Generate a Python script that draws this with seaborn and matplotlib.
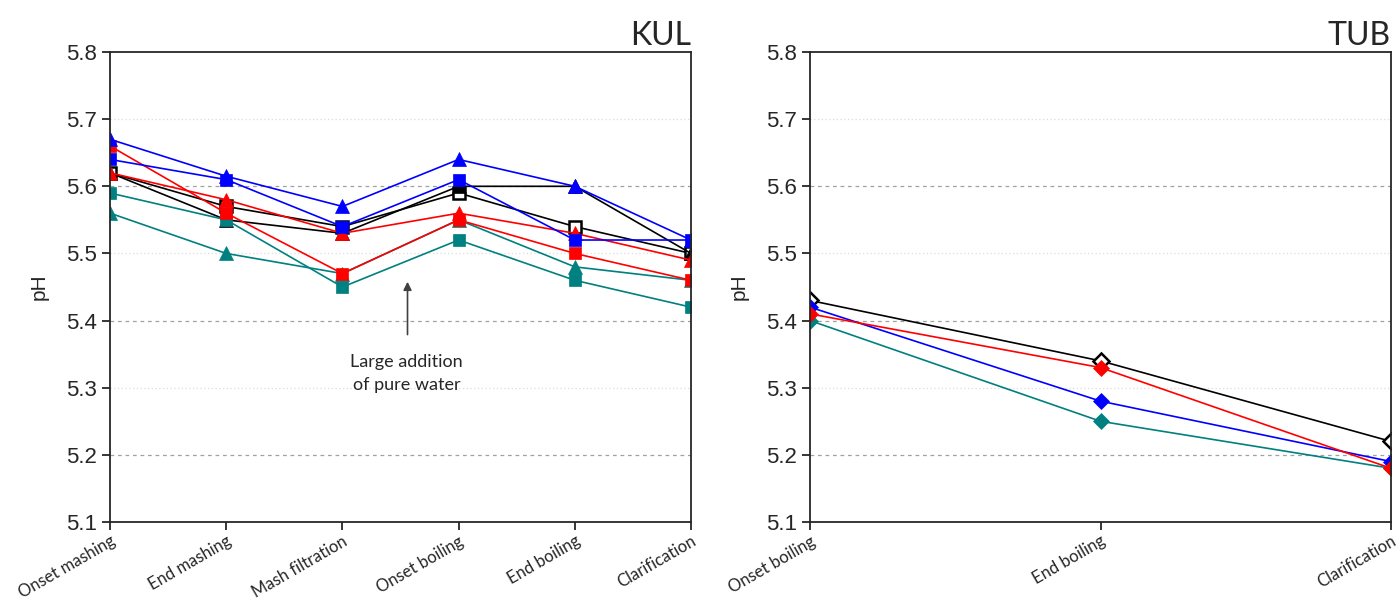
import matplotlib
matplotlib.use("Agg")
import matplotlib.pyplot as plt
import numpy as np
import pandas as pd
import seaborn as sns

# ---------------------------- data ----------------------------
kul_stages = ["Onset mashing", "End mashing", "Mash filtration",
              "Onset boiling", "End boiling", "Clarification"]
tub_stages = ["Onset boiling", "End boiling", "Clarification"]

kul_black_open_sq = [5.62, 5.57, 5.54, 5.59, 5.54, 5.50]
kul_black_tri = [5.62, 5.55, 5.53, 5.60, 5.60, 5.50]
kul_teal_tri = [5.56, 5.50, 5.47, 5.55, 5.48, 5.46]
kul_teal_sq = [5.59, 5.55, 5.45, 5.52, 5.46, 5.42]
kul_red_tri = [5.62, 5.58, 5.53, 5.56, 5.53, 5.49]
kul_red_sq = [5.66, 5.56, 5.47, 5.55, 5.50, 5.46]
kul_blue_tri = [5.67, 5.615, 5.57, 5.64, 5.60, 5.52]
kul_blue_sq = [5.64, 5.61, 5.54, 5.61, 5.52, 5.52]

tub_black = [5.43, 5.34, 5.22]
tub_teal = [5.40, 5.25, 5.18]
tub_blue = [5.42, 5.28, 5.19]
tub_red = [5.41, 5.33, 5.18]

BLUE, RED, TEAL, BLACK = "#0000ff", "#ff0000", "#008080", "#000000"

kul_series = [
    (kul_black_open_sq, BLACK, "s", True),
    (kul_black_tri, BLACK, "^", False),
    (kul_teal_tri, TEAL, "^", False),
    (kul_teal_sq, TEAL, "s", False),
    (kul_red_tri, RED, "^", False),
    (kul_red_sq, RED, "s", False),
    (kul_blue_tri, BLUE, "^", False),
    (kul_blue_sq, BLUE, "s", False),
]
tub_series = [
    (tub_black, BLACK, "D", True),
    (tub_teal, TEAL, "D", False),
    (tub_blue, BLUE, "D", False),
    (tub_red, RED, "D", False),
]

sns.set_style("ticks")
plt.rcParams["font.family"] = ["Liberation Sans", "DejaVu Sans"]
LABEL_FONT = ["Lato", "DejaVu Sans"]


def draw_panel(ax, stages, series, title):
    for values, color, marker, hollow in series:
        df = pd.DataFrame({"stage": np.arange(len(stages)), "pH": values})
        size = 10 if marker == "^" else 8.5
        sns.lineplot(data=df, x="stage", y="pH", ax=ax, color=color,
                     marker=marker, markersize=size, linewidth=1.2,
                     markerfacecolor="white" if hollow else color,
                     markeredgecolor=color, clip_on=True,
                     markeredgewidth=1.8 if hollow else 0.5)
    # half markers at the axis edges, like the original
    for line in ax.lines:
        line.set_clip_on(True)
        line.set_clip_path(ax.patch)
    ax.set_xlim(0, len(stages) - 1)
    ax.set_ylim(5.1, 5.8)
    ticks = np.arange(5.1, 5.81, 0.1)
    ax.set_yticks(ticks)
    ax.set_yticklabels([f"{v:.1f}" for v in ticks], fontsize=16)
    ax.set_xticks(np.arange(len(stages)))
    ax.set_xticklabels(stages, rotation=30, ha="right",
                       rotation_mode="anchor", fontsize=12, family=LABEL_FONT)
    for y in [5.2, 5.4, 5.6]:
        ax.axhline(y, color="#a0a0a0", linestyle=(0, (3, 3)), linewidth=0.9,
                   zorder=0)
    for y in [5.3, 5.5, 5.7]:
        ax.axhline(y, color="#dcdcdc", linestyle=(0, (1, 2)), linewidth=0.9,
                   zorder=0)
    for s in ax.spines.values():
        s.set_linewidth(1.3)
        s.set_visible(True)
        s.set_zorder(5)
    ax.tick_params(axis="both", direction="out", length=6, width=1.3)
    ax.tick_params(axis="x", pad=2)
    ax.set_xlabel("")
    ax.set_ylabel("pH", fontsize=15, labelpad=12)
    ax.set_title(title, loc="right", fontsize=23, family=LABEL_FONT, pad=5)


fig = plt.figure(figsize=(14, 6.05), dpi=100)
ax1 = fig.add_axes([0.0786, 0.1372, 0.415, 0.7768])
ax2 = fig.add_axes([0.5786, 0.1372, 0.415, 0.7768])

draw_panel(ax1, kul_stages, kul_series, "KUL")
draw_panel(ax2, tub_stages, tub_series, "TUB")

ax1.annotate("", xy=(2.56, 5.462), xytext=(2.56, 5.375),
             arrowprops=dict(arrowstyle="-|>", color="#404040", lw=1.2,
                             mutation_scale=12))
ax1.text(2.55, 5.35, "Large addition\nof pure water", ha="center", va="top",
         fontsize=13, family=LABEL_FONT, linespacing=1.5)

fig.savefig("out.png", dpi=100)
